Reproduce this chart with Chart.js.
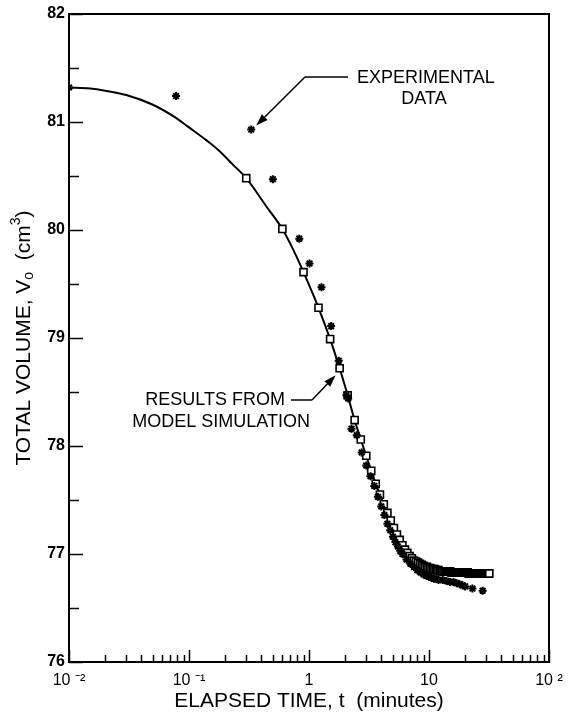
<!DOCTYPE html>
<html>
<head>
<meta charset="utf-8">
<script src="https://cdn.jsdelivr.net/npm/chart.js@4.4.1/dist/chart.umd.min.js"></script>
<style>
  html, body { margin:0; padding:0; background:#fff; }
  #wrap { width:575px; height:718px; }
</style>
</head>
<body>
<div id="wrap"><canvas id="volChart" width="575" height="718"></canvas></div>
<script>
// volume vs elapsed time (log t)

// model curve
const modelTime = [0.01, 0.015, 0.02, 0.03, 0.05, 0.075, 0.1, 0.14, 0.18, 0.23,
                   0.3, 0.44, 0.6, 0.73, 0.9, 1.2, 1.5, 1.8, 2.1, 2.4,
                   2.7, 3.0, 3.3, 3.6, 3.9, 4.2, 4.5, 5.1, 5.7, 6.3,
                   6.9, 7.5, 8.4, 9.3, 10.5, 12, 15, 20, 26, 32];
const modelVol  = [81.32, 81.31, 81.29, 81.25, 81.16, 81.05, 80.95, 80.83, 80.73, 80.61,
                   80.48, 80.22, 80.01, 79.83, 79.61, 79.28, 78.99, 78.72, 78.47, 78.24,
                   78.06, 77.91, 77.77, 77.65, 77.55, 77.46, 77.38, 77.24, 77.13, 77.04,
                   76.98, 76.94, 76.91, 76.88, 76.86, 76.85, 76.84, 76.83, 76.82, 76.82];

// simulation output every 0.3 min (squares)
const simTime = [0.3, 0.6, 0.9, 1.2, 1.5, 1.8, 2.1, 2.4, 2.7, 3.0,
                 3.3, 3.6, 3.9, 4.2, 4.5, 4.8, 5.1, 5.4, 5.7, 6.0,
                 6.3, 6.6, 6.9, 7.2, 7.5, 7.8, 8.1, 8.4, 8.7, 9.0,
                 9.3, 9.6, 9.9, 10.2, 10.5, 10.8, 11.1, 11.4, 11.7, 12.0,
                 12.3, 12.6, 12.9, 13.2, 13.5, 13.8, 14.1, 14.4, 14.7, 15.0,
                 15.3, 15.6, 15.9, 16.2, 16.5, 16.8, 17.1, 17.4, 17.7, 18.0,
                 18.3, 18.6, 18.9, 19.2, 19.5, 19.8, 20.1, 20.4, 20.7, 21.0,
                 21.3, 21.6, 21.9, 22.2, 22.5, 22.8, 23.1, 23.4, 23.7, 24.0,
                 24.3, 24.6, 24.9, 25.2, 25.5, 25.8, 26.1, 26.4, 26.7, 27.0,
                 27.3, 27.6, 27.9, 28.2, 28.5, 28.8, 29.1, 29.4, 29.7, 30.0,
                 30.3, 30.6, 30.9, 31.2, 31.5, 31.8];
const simVol  = [80.48, 80.01, 79.61, 79.28, 78.99, 78.72, 78.47, 78.24, 78.06, 77.91,
                 77.77, 77.65, 77.55, 77.46, 77.38, 77.31, 77.24, 77.18, 77.13, 77.08,
                 77.04, 77.01, 76.98, 76.96, 76.94, 76.93, 76.92, 76.91, 76.90, 76.89,
                 76.88, 76.88, 76.87, 76.87, 76.86, 76.86, 76.86, 76.85, 76.85, 76.85,
                 76.84, 76.84, 76.84, 76.84, 76.84, 76.84, 76.84, 76.84, 76.84, 76.84,
                 76.83, 76.83, 76.83, 76.83, 76.83, 76.83, 76.83, 76.83, 76.83, 76.83,
                 76.83, 76.83, 76.83, 76.83, 76.83, 76.83, 76.83, 76.83, 76.83, 76.83,
                 76.82, 76.82, 76.82, 76.82, 76.82, 76.82, 76.82, 76.82, 76.82, 76.82,
                 76.82, 76.82, 76.82, 76.82, 76.82, 76.82, 76.82, 76.82, 76.82, 76.82,
                 76.82, 76.82, 76.82, 76.82, 76.82, 76.82, 76.82, 76.82, 76.82, 76.82,
                 76.82, 76.82, 76.82, 76.82, 76.82, 76.82];

// measured (stars)
const expTime = [0.01, 0.078, 0.33, 0.50, 0.83, 1.01, 1.27, 1.53, 1.77, 2.05,
                 2.12, 2.26, 2.50, 2.75, 3.0, 3.25, 3.5, 3.75, 4.0, 4.25,
                 4.5, 4.75, 5.0, 5.25, 5.5, 5.75, 6.0, 6.5, 7.0, 7.5,
                 8.0, 8.5, 9.0, 9.5, 10, 10.5, 11, 11.5, 12, 13,
                 14, 15, 16, 17, 18, 19, 20, 23, 28];
const expVol  = [81.32, 81.24, 80.93, 80.47, 79.92, 79.69, 79.47, 79.11, 78.79, 78.47,
                 78.44, 78.16, 78.10, 77.94, 77.82, 77.72, 77.63, 77.53, 77.44, 77.36,
                 77.28, 77.22, 77.16, 77.11, 77.07, 77.03, 77.00, 76.95, 76.91, 76.88,
                 76.85, 76.83, 76.81, 76.80, 76.79, 76.78, 76.77, 76.77, 76.76, 76.76,
                 76.75, 76.74, 76.74, 76.73, 76.72, 76.71, 76.70, 76.68, 76.66];

const yTicks  = [76, 76.5, 77, 77.5, 78, 78.5, 79, 79.5, 80, 80.5, 81, 81.5, 82];
const xMajor  = [0.01, 0.1, 1, 10, 100];
const xLabels = ['10 \u207B\u00B2', '10 \u207B\u00B9', '1', '10', '10 \u00B2'];
const xMinor  = [0.02, 0.03, 0.04, 0.05, 0.06, 0.07, 0.08, 0.09,
                 0.2, 0.3, 0.4, 0.5, 0.6, 0.7, 0.8, 0.9,
                 2, 3, 4, 5, 6, 7, 8, 9,
                 20, 30, 40, 50, 60, 70, 80, 90];

const FONT = '"Liberation Sans", Arial, sans-serif';

const pts = (xs, ys) => xs.map((x, i) => ({ x, y: ys[i] }));

function arrow(ctx, x0, y0, x1, y1){
  const a = Math.atan2(y1 - y0, x1 - x0);
  const L = 12, W = 4;
  ctx.beginPath();
  ctx.moveTo(x0, y0);
  ctx.lineTo(x1 - Math.cos(a) * L * 0.8, y1 - Math.sin(a) * L * 0.8);
  ctx.stroke();
  ctx.beginPath();
  ctx.moveTo(x1, y1);
  ctx.lineTo(x1 - Math.cos(a) * L - Math.sin(a) * W, y1 - Math.sin(a) * L + Math.cos(a) * W);
  ctx.lineTo(x1 - Math.cos(a) * L + Math.sin(a) * W, y1 - Math.sin(a) * L - Math.cos(a) * W);
  ctx.closePath();
  ctx.fill();
}

// inward ticks, frame, labels with arrows, axis titles
const decor = {
  id: 'decor',
  afterDraw(chart){
    const { ctx, chartArea: a, scales: { x, y } } = chart;
    ctx.save();
    ctx.strokeStyle = '#000';
    ctx.fillStyle = '#000';
    ctx.lineCap = 'butt';

    // frame top / right
    ctx.lineWidth = 2;
    ctx.beginPath();
    ctx.moveTo(a.left, a.top);
    ctx.lineTo(a.right, a.top);
    ctx.lineTo(a.right, a.bottom);
    ctx.stroke();

    // y ticks (inward)
    ctx.lineWidth = 1.5;
    yTicks.forEach(v => {
      const py = Math.round(y.getPixelForValue(v)) + 0.5;
      const len = Number.isInteger(v) ? 14 : 10;
      ctx.beginPath(); ctx.moveTo(a.left, py); ctx.lineTo(a.left + len, py); ctx.stroke();
    });
    // x ticks (inward)
    xMinor.forEach(v => {
      const px = Math.round(x.getPixelForValue(v)) + 0.5;
      ctx.beginPath(); ctx.moveTo(px, a.bottom); ctx.lineTo(px, a.bottom - 7); ctx.stroke();
    });
    xMajor.forEach(v => {
      const px = Math.round(x.getPixelForValue(v)) + 0.5;
      ctx.beginPath(); ctx.moveTo(px, a.bottom); ctx.lineTo(px, a.bottom - 12); ctx.stroke();
    });

    // callouts
    ctx.lineWidth = 1.5;
    ctx.font = '18px ' + FONT;
    ctx.textBaseline = 'middle';

    const ex = x.getPixelForValue(expTime[2]), ey = y.getPixelForValue(expVol[2]);
    ctx.beginPath(); ctx.moveTo(348, 77); ctx.lineTo(305, 77); ctx.stroke();
    arrow(ctx, 305, 77, ex + 5, ey - 4);
    ctx.textAlign = 'left';
    ctx.fillText('EXPERIMENTAL', 357, 78);
    ctx.textAlign = 'center';
    ctx.fillText('DATA', 424, 99);

    const sx = x.getPixelForValue(simTime[5]), sy = y.getPixelForValue(simVol[5]);
    ctx.beginPath(); ctx.moveTo(291, 400); ctx.lineTo(312, 400); ctx.stroke();
    arrow(ctx, 312, 400, sx - 4, sy + 7);
    ctx.textAlign = 'right';
    ctx.fillText('RESULTS FROM', 285, 400);
    ctx.fillText('MODEL SIMULATION', 310, 422);

    // x title
    ctx.font = '21px ' + FONT;
    ctx.textAlign = 'center';
    ctx.fillText('ELAPSED TIME, t  (minutes)', (a.left + a.right) / 2, 701);

    // y title, rotated, with sub/superscript
    ctx.translate(24, (a.top + a.bottom) / 2);
    ctx.rotate(-Math.PI / 2);
    const parts = [
      ['TOTAL VOLUME, V', 21, 0],
      ['o', 14, 5],
      ['  (cm', 21, 0],
      ['3', 14, -8],
      [')', 21, 0]
    ];
    let w = 0;
    parts.forEach(p => { ctx.font = p[1] + 'px ' + FONT; w += ctx.measureText(p[0]).width; });
    let cx = -w / 2;
    ctx.textAlign = 'left';
    parts.forEach(p => {
      ctx.font = p[1] + 'px ' + FONT;
      ctx.fillText(p[0], cx, p[2]);
      cx += ctx.measureText(p[0]).width;
    });
    ctx.restore();
  }
};

new Chart(document.getElementById('volChart'), {
  type: 'scatter',
  data: {
    datasets: [
      { label: 'Experimental', data: pts(expTime, expVol), order: 0,
        pointStyle: 'star', pointRadius: 4, borderColor: '#000', borderWidth: 2,
        backgroundColor: '#000', showLine: false },
      { label: 'Simulation', data: pts(simTime, simVol), order: 1,
        pointStyle: 'rect', pointRadius: 5, borderColor: '#000', borderWidth: 1.6,
        backgroundColor: '#fff', showLine: false },
      { label: 'Model', data: pts(modelTime, modelVol), order: 2,
        showLine: true, borderColor: '#000', borderWidth: 2, pointRadius: 0,
        cubicInterpolationMode: 'monotone', fill: false }
    ]
  },
  options: {
    responsive: false,
    animation: false,
    devicePixelRatio: 1,
    layout: { padding: { left: 0, right: 26, top: 14, bottom: 0 } },
    plugins: { legend: { display: false }, tooltip: { enabled: false } },
    scales: {
      x: {
        type: 'logarithmic', min: 0.01, max: 100,
        afterFit: s => { s.height = 56; },
        afterBuildTicks: s => { s.ticks = xMajor.map(v => ({ value: v })); },
        grid: { drawOnChartArea: false, drawTicks: false },
        border: { display: true, color: '#000', width: 2 },
        ticks: {
          autoSkip: false, maxRotation: 0, padding: 9, color: '#000',
          font: { family: FONT, size: 16 },
          callback: v => { const i = xMajor.indexOf(v); return i >= 0 ? xLabels[i] : ''; }
        }
      },
      y: {
        min: 76, max: 82,
        afterFit: s => { s.width = 69; },
        afterBuildTicks: s => { s.ticks = yTicks.map(v => ({ value: v })); },
        grid: { drawOnChartArea: false, drawTicks: false },
        border: { display: true, color: '#000', width: 2 },
        ticks: {
          padding: 4, color: '#000',
          font: { family: FONT, size: 16, weight: 'bold' },
          callback: v => Number.isInteger(v) ? String(v) : ''
        }
      }
    }
  },
  plugins: [decor]
});
</script>
</body>
</html>
